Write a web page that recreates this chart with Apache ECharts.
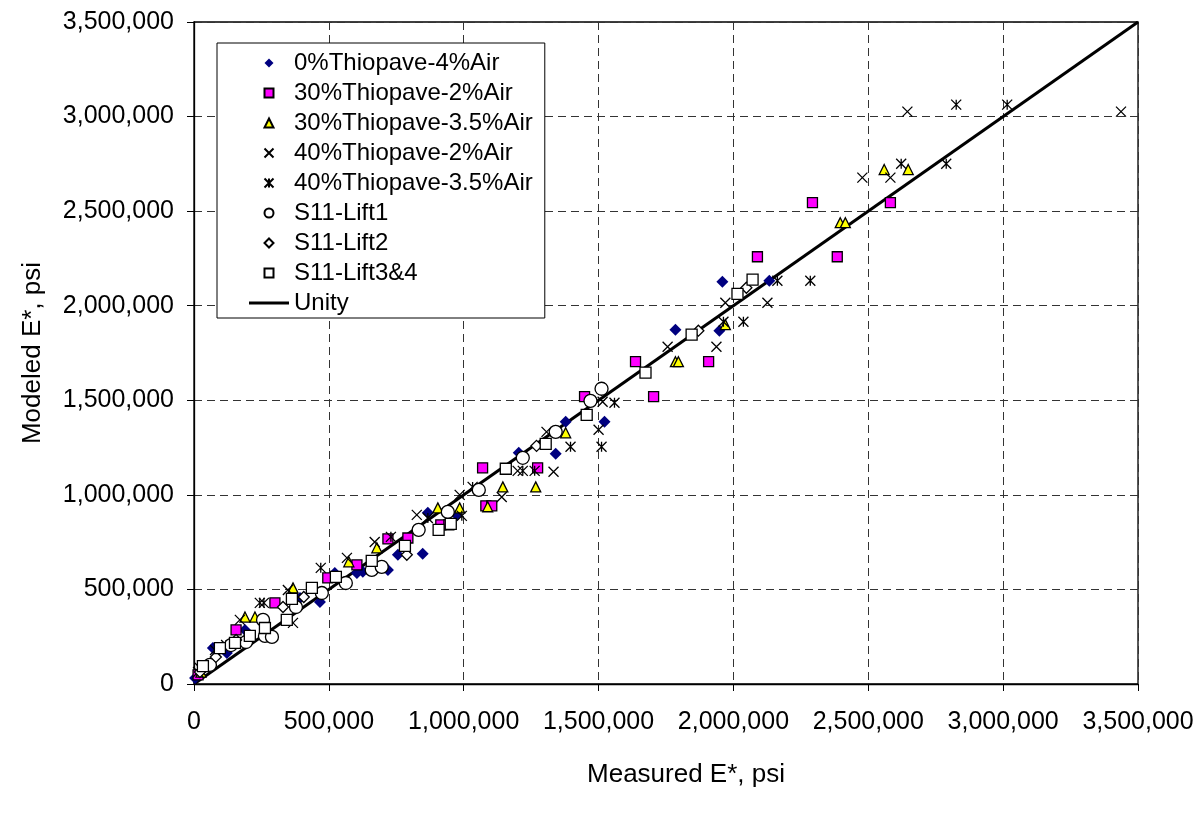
<!DOCTYPE html>
<html>
<head>
<meta charset="utf-8">
<script src="https://cdn.jsdelivr.net/npm/echarts@6/dist/echarts.min.js"></script>
<style>
  html, body { margin: 0; padding: 0; background: #fff; }
  #chart { width: 1200px; height: 813px; }
</style>
</head>
<body>
<div id="chart"></div>
<script>
// measured vs modeled E*, psi  ([measured, modeled])
const thio0Air4 = [[4000,32000],[22000,63000],[70000,190000],[122000,164000],[189000,286000],[393000,455000],[467000,434000],[522000,587000],[604000,587000],[626000,593000],[719000,603000],[756000,683000],[848000,688000],[867000,905000],[974000,894000],[1204000,1222000],[1341000,1217000],[1378000,1386000],[1522000,1386000],[1785000,1873000],[1948000,1868000],[1959000,2127000],[2133000,2132000]];
const thio30Air2 = [[15000,48000],[156000,286000],[300000,429000],[496000,561000],[604000,630000],[719000,767000],[793000,772000],[915000,841000],[945000,841000],[1070000,1143000],[1082000,942000],[1104000,942000],[1274000,1143000],[1448000,1519000],[1637000,1704000],[1704000,1519000],[1908000,1704000],[2089000,2259000],[2293000,2545000],[2385000,2259000],[2582000,2545000]];
const thio30Air35 = [[26000,63000],[189000,354000],[226000,354000],[367000,508000],[574000,646000],[678000,720000],[904000,931000],[985000,931000],[1089000,937000],[1145000,1042000],[1267000,1042000],[1378000,1328000],[1785000,1704000],[1796000,1704000],[1970000,1900000],[2396000,2439000],[2415000,2439000],[2559000,2720000],[2648000,2720000]];
const thio40Air2 = [[15000,63000],[78000,180000],[170000,339000],[367000,323000],[348000,497000],[567000,667000],[670000,751000],[826000,894000],[985000,1000000],[1141000,989000],[1200000,1127000],[1307000,1333000],[1333000,1122000],[1500000,1344000],[1515000,1492000],[1756000,1783000],[1937000,1783000],[1970000,2016000],[2126000,2016000],[2478000,2677000],[2582000,2677000],[2645000,3026000],[3437000,3026000]];
const thio40Air35 = [[22000,85000],[119000,206000],[244000,429000],[259000,429000],[470000,614000],[730000,778000],[867000,878000],[993000,889000],[1033000,1042000],[1219000,1127000],[1263000,1127000],[1396000,1254000],[1511000,1254000],[1559000,1487000],[1963000,1915000],[2037000,1915000],[2163000,2132000],[2285000,2132000],[2622000,2751000],[2789000,2751000],[2826000,3063000],[3015000,3063000]];
const lift1 = [[59000,101000],[137000,206000],[193000,222000],[256000,339000],[263000,254000],[289000,249000],[378000,407000],[474000,481000],[563000,534000],[659000,603000],[696000,619000],[833000,815000],[941000,910000],[1056000,1026000],[1219000,1196000],[1341000,1333000],[1470000,1497000],[1511000,1561000]];
const lift2 = [[22000,63000],[81000,143000],[156000,233000],[330000,407000],[407000,460000],[789000,683000],[1270000,1259000],[1870000,1868000],[2048000,2095000]];
const lift34 = [[33000,95000],[96000,190000],[152000,217000],[207000,254000],[263000,296000],[344000,339000],[363000,450000],[437000,508000],[526000,566000],[659000,651000],[782000,730000],[907000,815000],[952000,847000],[1156000,1138000],[1304000,1270000],[1456000,1423000],[1674000,1646000],[1845000,1847000],[2015000,2063000],[2071000,2138000]];
const unity = [[0,0],[3500000,3500000]];

const axisMin = 0;
const axisMax = 3500000;
const axisStep = 500000;

const font = 'Liberation Sans, Arial, sans-serif';
// square paths so the legend keeps them small
const diamond = 'path://M5,0L10,5L5,10L0,5Z';
const square = 'path://M0,0L10,0L10,10L0,10Z';
const triangle = 'path://M5,0L10,10L0,10Z';
const ring = 'path://M0,5A5,5 0 1 1 10,5A5,5 0 1 1 0,5Z';
const cross = 'path://M0,0L10,10M0,10L10,0';
const star = 'path://M0,0L10,10M0,10L10,0M5,0L5,10';
const bar = 'path://M0,0L40,0L40,3L0,3Z';

function fmt(v) {
  return v.toLocaleString('en-US');
}

function dots(name, data, symbol, size, fill, stroke) {
  return {
    name,
    type: 'scatter',
    data,
    symbol,
    symbolSize: size,
    z: 3,
    itemStyle: {
      color: fill,
      borderColor: stroke || fill,
      borderWidth: stroke ? 1.3 : 0,
      opacity: 1
    },
    emphasis: { disabled: true }
  };
}

function valueAxis(name, gap, labelMargin, namePad) {
  return {
    type: 'value',
    min: axisMin,
    max: axisMax,
    interval: axisStep,
    name,
    nameLocation: 'middle',
    nameGap: gap,
    nameTextStyle: { fontSize: 26, color: '#000', fontFamily: font, padding: namePad },
    axisLine: { show: true, lineStyle: { color: '#000', width: 1.3 } },
    axisTick: { show: true, length: 7, lineStyle: { color: '#000' } },
    axisLabel: { formatter: fmt, fontSize: 25, color: '#000', fontFamily: font, margin: labelMargin },
    splitLine: { show: true, lineStyle: { color: '#333', width: 1, type: [8, 5] } }
  };
}

const names = ['0%Thiopave-4%Air', '30%Thiopave-2%Air', '30%Thiopave-3.5%Air', '40%Thiopave-2%Air', '40%Thiopave-3.5%Air', 'S11-Lift1', 'S11-Lift2', 'S11-Lift3&4', 'Unity'];

const chart = echarts.init(document.getElementById('chart'), null, { renderer: 'canvas' });
chart.setOption({
  animation: false,
  backgroundColor: '#fff',
  grid: { left: 194, right: 62, top: 22, bottom: 129, show: true, borderColor: '#000', borderWidth: 1.3 },
  xAxis: valueAxis('Measured E*, psi', 78, 26, [0, 0, 0, 40]),
  yAxis: valueAxis('Modeled E*, psi', 148, 20, 0),
  legend: {
    left: 217,
    top: 43,
    orient: 'vertical',
    backgroundColor: '#fff',
    borderColor: '#000',
    borderWidth: 1,
    borderRadius: 0,
    padding: [7, 12, 2, 32],
    itemWidth: 40,
    itemHeight: 9,
    itemGap: 4,
    symbolKeepAspect: true,
    textStyle: { fontSize: 24, lineHeight: 26, color: '#000', fontFamily: font },
    data: names.map((n) => (n === 'Unity' ? { name: n, icon: bar } : n))
  },
  series: [
    dots(names[0], thio0Air4, diamond, 12, '#000080'),
    dots(names[1], thio30Air2, square, 10, '#ff00ff', '#000'),
    dots(names[2], thio30Air35, triangle, 10, '#ffff00', '#000'),
    dots(names[3], thio40Air2, cross, 10, '#000', '#000'),
    dots(names[4], thio40Air35, star, 10, '#000', '#000'),
    dots(names[5], lift1, ring, 13, '#fff', '#000'),
    dots(names[6], lift2, diamond, 11, '#fff', '#000'),
    dots(names[7], lift34, square, 11, '#fff', '#000'),
    {
      name: names[8],
      type: 'line',
      data: unity,
      symbol: 'none',
      z: 2,
      lineStyle: { color: '#000', width: 3 },
      itemStyle: { color: '#000' },
      emphasis: { disabled: true }
    }
  ]
});
</script>
</body>
</html>
